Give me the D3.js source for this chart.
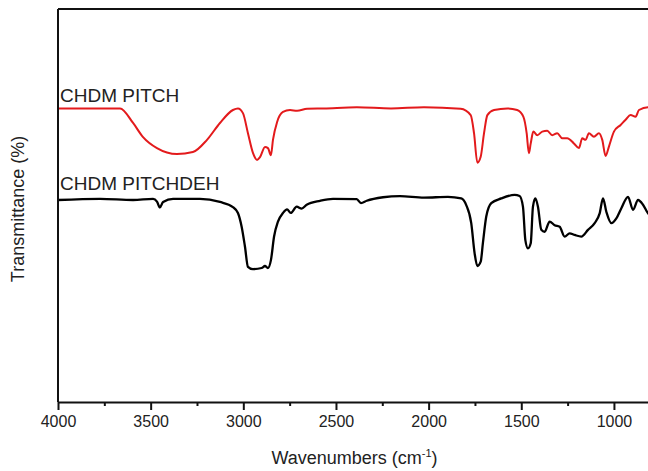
<!DOCTYPE html>
<html>
<head>
<meta charset="utf-8">
<script src="https://cdn.jsdelivr.net/npm/d3@7"></script>
<style>
  html, body { margin: 0; padding: 0; background: #fff; overflow: hidden; }
  #chart { width: 648px; height: 471px; }
  text { font-family: Arial, "Liberation Sans", sans-serif; fill: #222; }
</style>
</head>
<body>
<div id="chart"></div>
<script>
// wavenumbers (cm-1) and transmittance (arbitrary %, offset per trace)
const pitchWn = [4000, 3665, 3595, 3541, 3466, 3358, 3272, 3196, 3126, 3056, 3029, 3002, 2975, 2948,
  2926, 2910, 2883, 2867, 2851, 2840, 2818, 2786, 2748, 2710, 2656, 2565, 2387, 2203, 2025, 1827,
  1773, 1755, 1737, 1719, 1701, 1683, 1647, 1575, 1522, 1489, 1471, 1459, 1449, 1435, 1414, 1387,
  1360, 1333, 1306, 1279, 1252, 1216, 1189, 1171, 1153, 1135, 1108, 1081, 1063, 1045, 1027, 1000,
  964, 937, 910, 883, 865, 816, 800];
const pitchT = [74.7, 74.7, 71.0, 67.4, 64.6, 63.1, 63.6, 66.7, 71.0, 74.3, 74.7, 73.5, 68.4, 63.4,
  61.6, 62.3, 64.9, 64.6, 62.8, 66.7, 71.2, 73.8, 74.3, 74.1, 74.6, 74.7, 75.0, 74.7, 75.0, 74.6,
  73.0, 68.4, 60.9, 62.4, 68.4, 73.0, 74.3, 74.7, 74.3, 72.6, 68.4, 63.3, 65.8, 68.8, 67.9, 68.8,
  69.0, 67.9, 68.4, 67.1, 67.1, 65.8, 64.6, 67.1, 66.7, 68.4, 67.5, 68.4, 66.7, 62.6, 65.0, 68.8,
  70.5, 71.8, 73.0, 72.6, 74.3, 75.0, 75.0];

const dehWn = [4000, 3773, 3595, 3487, 3466, 3450, 3433, 3379, 3234, 3126, 3056, 3029, 3009, 2991,
  2975, 2948, 2901, 2883, 2867, 2851, 2834, 2813, 2786, 2764, 2744, 2712, 2685, 2658, 2586, 2516,
  2388, 2365, 2334, 2246, 2155, 2025, 1896, 1824, 1797, 1770, 1752, 1737, 1719, 1707, 1689, 1662,
  1608, 1536, 1509, 1491, 1478, 1464, 1449, 1437, 1424, 1410, 1392, 1374, 1347, 1320, 1293, 1266,
  1239, 1212, 1176, 1140, 1104, 1077, 1059, 1041, 1014, 987, 960, 924, 897, 870, 843, 816, 800];
const dehT = [51.4, 51.7, 51.4, 51.7, 51.0, 49.5, 50.9, 51.7, 51.7, 50.9, 49.6, 48.1, 44.6, 39.5,
  34.4, 33.8, 34.1, 34.6, 34.1, 36.1, 42.1, 45.9, 48.1, 49.0, 48.1, 49.7, 49.2, 50.2, 51.2, 51.7,
  51.6, 50.6, 51.2, 52.1, 52.4, 52.0, 52.2, 51.8, 50.1, 45.5, 37.9, 34.6, 35.7, 40.5, 47.2, 50.6,
  51.8, 52.7, 52.4, 49.7, 41.2, 39.1, 40.4, 49.7, 51.8, 49.7, 43.8, 43.3, 45.9, 45.0, 44.6, 42.1,
  42.9, 42.5, 42.1, 43.8, 45.5, 48.0, 51.8, 48.4, 45.5, 46.7, 49.3, 52.2, 48.9, 51.4, 50.2, 48.0, 47.4];

const seriesNames = ["CHDM PITCH", "CHDM PITCHDEH"];
const seriesColors = ["#e31a1c", "#000000"];
const majorTicks = [4000, 3500, 3000, 2500, 2000, 1500, 1000];
const minorTicks = [3750, 3250, 2750, 2250, 1750, 1250];

const series = [
  { name: seriesNames[0], color: seriesColors[0], values: pitchWn.map((w, i) => ({ wn: w, t: pitchT[i] })) },
  { name: seriesNames[1], color: seriesColors[1], values: dehWn.map((w, i) => ({ wn: w, t: dehT[i] })) }
];

const fullW = 648, fullH = 471;
const margin = { top: 9, right: -3, bottom: 69, left: 58 };
const width = fullW - margin.left - margin.right;
const height = fullH - margin.top - margin.bottom;

const svg = d3.select("#chart").append("svg")
  .attr("width", fullW)
  .attr("height", fullH);

const g = svg.append("g")
  .attr("transform", `translate(${margin.left},${margin.top})`);

const x = d3.scaleLinear().domain([4000, 800]).range([0, width]);
const y = d3.scaleLinear().domain([0, 100]).range([height, 0]);

// traces
const line = d3.line()
  .x(d => x(d.wn))
  .y(d => y(d.t))
  .curve(d3.curveMonotoneX);

g.selectAll(".trace")
  .data(series)
  .enter()
  .append("path")
  .attr("class", "trace")
  .attr("d", d => line(d.values))
  .attr("fill", "none")
  .attr("stroke", d => d.color)
  .attr("stroke-width", (d, i) => i === 0 ? 2 : 2.3)
  .attr("stroke-linejoin", "round");

// trace labels, just above the start of each trace
g.selectAll(".trace-label")
  .data(series)
  .enter()
  .append("text")
  .attr("class", "trace-label")
  .attr("x", x(4000) + 2)
  .attr("y", (d, i) => y(d.values[0].t) - (i === 0 ? 6 : 10))
  .style("font-size", "19px")
  .text(d => d.name);

// frame
g.append("line")
  .attr("x1", 0).attr("x2", width)
  .attr("y1", 0).attr("y2", 0)
  .attr("stroke", "#111").attr("stroke-width", 2);
g.append("line")
  .attr("x1", 0).attr("x2", 0)
  .attr("y1", 0).attr("y2", height)
  .attr("stroke", "#111").attr("stroke-width", 2);
g.append("line")
  .attr("x1", width).attr("x2", width)
  .attr("y1", 0).attr("y2", height)
  .attr("stroke", "#111").attr("stroke-width", 2);

// x axis
g.append("g")
  .attr("transform", `translate(0,${height})`)
  .call(d3.axisBottom(x).tickValues(minorTicks).tickSize(4).tickFormat(""))
  .call(a => a.select(".domain").remove())
  .call(a => a.selectAll("line").attr("stroke", "#111").attr("stroke-width", 2));

g.append("g")
  .attr("transform", `translate(0,${height})`)
  .call(d3.axisBottom(x).tickValues(majorTicks).tickSize(8).tickSizeOuter(0).tickPadding(6).tickFormat(d3.format("d")))
  .call(a => a.select(".domain").attr("stroke", "#111").attr("stroke-width", 2))
  .call(a => a.selectAll("line").attr("stroke", "#111").attr("stroke-width", 2))
  .call(a => a.selectAll("text")
    .style("font-size", "16px")
    .style("font-family", "Arial, 'Liberation Sans', sans-serif")
    .attr("fill", "#222"));

// axis titles
const xTitle = svg.append("text")
  .attr("x", margin.left + width / 2)
  .attr("y", 464)
  .attr("text-anchor", "middle")
  .style("font-size", "18px");
xTitle.append("tspan").text("Wavenumbers (cm");
xTitle.append("tspan").attr("dy", -7).style("font-size", "11px").text("-1");
xTitle.append("tspan").attr("dy", 7).text(")");

svg.append("text")
  .attr("transform", "rotate(-90)")
  .attr("x", -209)
  .attr("y", 24)
  .attr("text-anchor", "middle")
  .style("font-size", "18px")
  .text("Transmittance (%)");
</script>
</body>
</html>
